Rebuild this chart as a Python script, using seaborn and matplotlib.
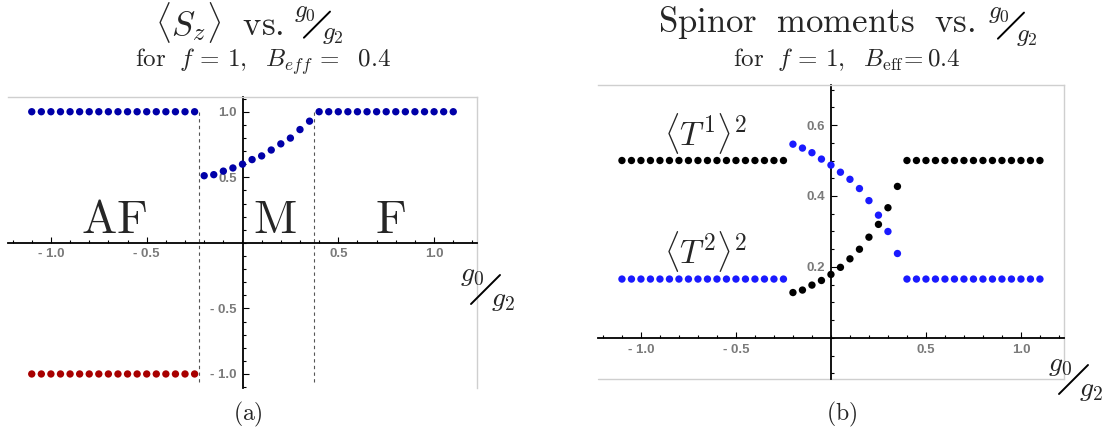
import pandas as pd
import seaborn as sns
from matplotlib import pyplot as plt
from matplotlib.lines import Line2D
from matplotlib.ticker import MultipleLocator

# g0/g2 sample points
g_af = [-1.1, -1.05, -1.0, -0.95, -0.9, -0.85, -0.8, -0.75, -0.7, -0.65, -0.6, -0.55,
        -0.5, -0.45, -0.4, -0.35, -0.3, -0.25]
g_mix = [-0.2, -0.15, -0.1, -0.05, 0.0, 0.05, 0.1, 0.15, 0.2, 0.25, 0.3, 0.35]
g_f = [0.4, 0.45, 0.5, 0.55, 0.6, 0.65, 0.7, 0.75, 0.8, 0.85, 0.9, 0.95, 1.0, 1.05, 1.1]

# panel (a): <S_z>
sz_af_up = [1.0] * len(g_af)
sz_af_down = [-1.0] * len(g_af)
sz_mix = [0.512, 0.520, 0.547, 0.571, 0.600, 0.635, 0.663, 0.708, 0.755, 0.799, 0.864, 0.928]
sz_f = [1.0] * len(g_f)
phase_bounds = [-0.225, 0.375]

# panel (b): spinor moments
t_black_af = [0.5] * len(g_af)
t_black_mix = [0.128, 0.135, 0.149, 0.162, 0.179, 0.199, 0.223, 0.250, 0.284, 0.320, 0.367, 0.427]
t_black_f = [0.5] * len(g_f)
t_blue_af = [0.166] * len(g_af)
t_blue_mix = [0.546, 0.535, 0.522, 0.504, 0.487, 0.467, 0.447, 0.421, 0.387, 0.346, 0.300, 0.238]
t_blue_f = [0.166] * len(g_f)

x_major = [-1.0, -0.5, 0.5, 1.0]
x_labels = ['- 1.0', '- 0.5', '0.5', '1.0']
ya_major = [-1.0, -0.5, 0.5, 1.0]
ya_labels = ['- 1.0', '- 0.5', '0.5', '1.0']
yb_major = [0.2, 0.4, 0.6]
yb_labels = ['0.2', '0.4', '0.6']

sns.set_style('white')
plt.rcParams['mathtext.fontset'] = 'cm'
plt.rcParams['font.family'] = ['DejaVu Serif']

W, H = 1106, 444
fig = plt.figure(figsize=(W / 100, H / 100), dpi=100)


def px(x, y):
    return x / W, 1 - y / H


def frac_label(x, y, fs):
    # slanted g0/g2 fraction, (x, y) = left/baseline of g0 in pixels
    k = fs / 20.0
    fig.text(*px(x, y), r'$g_0$', fontsize=fs, ha='left', va='baseline')
    fig.add_artist(Line2D([(x + 11 * k) / W, (x + 40 * k) / W],
                          [1 - (y + 23 * k) / H, 1 - (y - 6 * k) / H],
                          color='black', lw=1.4))
    fig.text(*px(x + 31 * k, y + 25 * k), r'$g_2$', fontsize=fs, ha='left', va='baseline')


def style_axes(ax, xlim, ylim, y_major, y_labels, y_minor):
    ax.set_xlim(*xlim)
    ax.set_ylim(*ylim)
    for s in ['left', 'bottom']:
        ax.spines[s].set_position(('data', 0))
        ax.spines[s].set_color('black')
        ax.spines[s].set_linewidth(1.3)
    for s in ['top', 'right']:
        ax.spines[s].set_color('#cfcfcf')
        ax.spines[s].set_linewidth(1.0)
    ax.set_xticks(x_major, labels=x_labels)
    ax.set_yticks(y_major, labels=y_labels)
    ax.xaxis.set_minor_locator(MultipleLocator(0.1))
    ax.yaxis.set_minor_locator(MultipleLocator(y_minor))
    ax.tick_params(which='both', direction='in', color='black', width=0.8,
                   bottom=True, left=True, top=False, right=False)
    ax.tick_params(which='major', length=4.5, labelcolor='#7a7a7a', labelsize=9.5, pad=4)
    ax.tick_params(which='minor', length=2.5)
    for lab in ax.get_xticklabels() + ax.get_yticklabels():
        lab.set_family('Liberation Sans')
        lab.set_fontweight('bold')
    ax.set_xlabel('')
    ax.set_ylabel('')


# ---- panel (a)
ax1 = fig.add_axes([7.8 / W, 1 - 388.4 / H, 469.4 / W, 291.1 / H])
df_a = pd.DataFrame({
    'g': g_af + g_af + g_mix + g_f,
    'val': sz_af_up + sz_af_down + sz_mix + sz_f,
    'series': ['up'] * len(g_af) + ['down'] * len(g_af) + ['up'] * len(g_mix) + ['up'] * len(g_f),
})
sns.scatterplot(data=df_a, x='g', y='val', hue='series', palette={'up': '#0000a8', 'down': '#a80000'},
                s=28, edgecolor='none', legend=False, ax=ax1, zorder=3)
ax1.vlines(phase_bounds, -1.06, 1.0, colors='#555555', linestyles=(0, (3, 3)), lw=0.8)
style_axes(ax1, (-1.225, 1.225), (-1.11, 1.11), ya_major, ya_labels, 0.1)
for txt, xx in [('AF', -0.67), ('M', 0.17), ('F', 0.77)]:
    ax1.text(xx, 0.075, r'$\mathrm{%s}$' % txt, fontsize=34, ha='center', va='baseline')

# ---- panel (b)
ax2 = fig.add_axes([598.2 / W, 1 - 378.8 / H, 465.5 / W, 293.9 / H])
df_b = pd.DataFrame({
    'g': g_af + g_mix + g_f + g_af + g_mix + g_f,
    'val': t_black_af + t_black_mix + t_black_f + t_blue_af + t_blue_mix + t_blue_f,
    'series': ['black'] * (len(g_af) + len(g_mix) + len(g_f)) + ['blue'] * (len(g_af) + len(g_mix) + len(g_f)),
})
sns.scatterplot(data=df_b, x='g', y='val', hue='series', palette={'black': '#000000', 'blue': '#1a1aff'},
                s=28, edgecolor='none', legend=False, ax=ax2, zorder=3)
style_axes(ax2, (-1.225, 1.225), (-0.115, 0.713), yb_major, yb_labels, 0.05)
ax2.plot([0, 1], [0, 0], transform=ax2.transAxes, color='#cfcfcf', lw=1.0, clip_on=False)
ax2.text(-0.66, 0.577, r'$\langle T^1\rangle^2$', fontsize=24, ha='center', va='center')
ax2.text(-0.66, 0.245, r'$\langle T^2\rangle^2$', fontsize=24, ha='center', va='center')

# ---- titles and labels
fig.text(*px(284, 35), r'$\langle S_z\rangle\ \ \mathrm{vs.}$', fontsize=25, ha='right', va='baseline')
frac_label(294, 17, 18)
fig.text(*px(263, 67), r'$\mathrm{for}\ \ f\,=\,1,\ \ B_{eff}\,=\ \ 0.4$', fontsize=18,
         ha='center', va='baseline')

fig.text(*px(975, 32), r'$\mathrm{Spinor\ \ moments\ \ vs.}$', fontsize=25, ha='right', va='baseline')
frac_label(988, 18, 18)
fig.text(*px(847, 66), r'$\mathrm{for}\ \ f\,=\,1,\ \ B_{\rm eff}\!=0.4$', fontsize=18,
         ha='center', va='baseline')

frac_label(460, 281, 20)
frac_label(1048, 371, 20)

fig.text(*px(248, 420), r'$\mathrm{(a)}$', fontsize=17, ha='center', va='baseline')
fig.text(*px(842, 420), r'$\mathrm{(b)}$', fontsize=17, ha='center', va='baseline')

plt.savefig('out.png', dpi=100)
